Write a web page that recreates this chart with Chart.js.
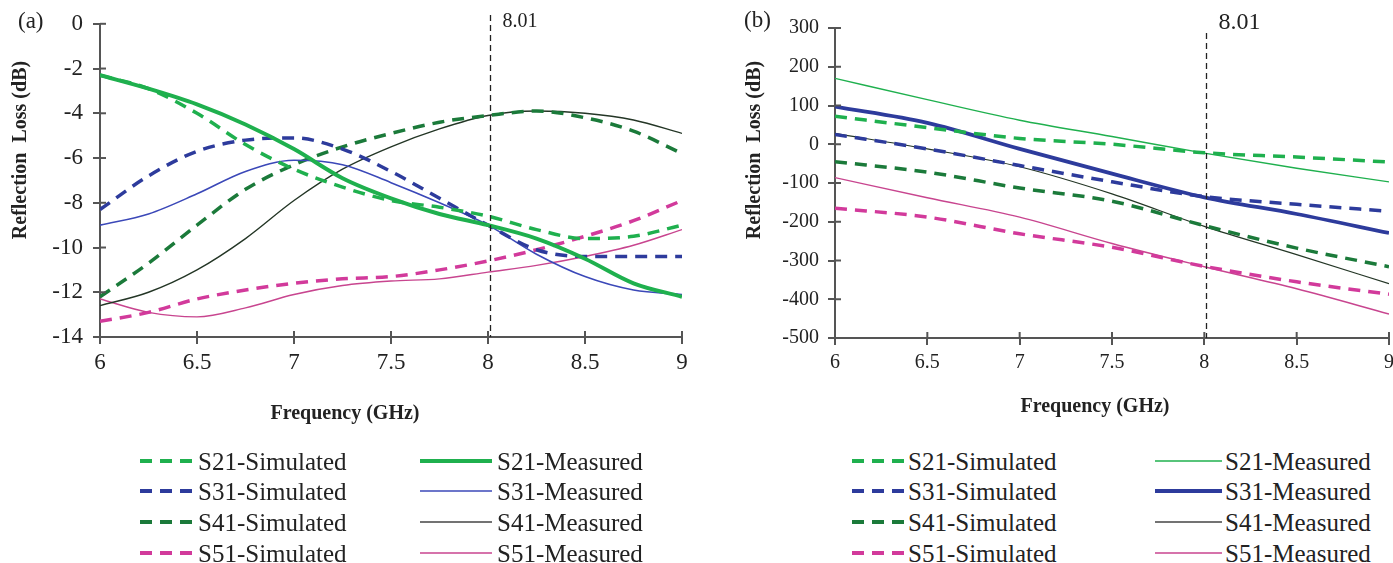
<!DOCTYPE html>
<html>
<head>
<meta charset="utf-8">
<script src="https://cdn.jsdelivr.net/npm/chart.js@4/dist/chart.umd.min.js"></script>
<style>
  html,body{margin:0;padding:0;background:#fff;}
  body{width:1393px;height:563px;position:relative;overflow:hidden;font-family:"Liberation Serif","Times New Roman",serif;color:#222;}
  .wrap{position:absolute;top:0;height:430px;}
  .lbl{position:absolute;white-space:nowrap;line-height:1;}
  .ytitle{position:absolute;font-weight:bold;font-size:20px;white-space:nowrap;transform:translate(-50%,-50%) rotate(-90deg);line-height:1;}
  .xtitle{position:absolute;font-weight:bold;font-size:20px;white-space:nowrap;transform:translate(-50%,-50%);line-height:1;}
  .leg{position:absolute;font-size:25px;white-space:nowrap;transform:translateY(-50%);line-height:1;}
  svg.smp{position:absolute;overflow:visible;}
</style>
</head>
<body>
<div class="wrap" style="left:0;width:700px;"><canvas id="ca"></canvas></div>
<div class="wrap" style="left:700px;width:700px;"><canvas id="cb"></canvas></div>

<div class="lbl" style="left:18px;top:9px;font-size:23px;">(a)</div>
<div class="lbl" style="left:744px;top:8px;font-size:23px;">(b)</div>
<div class="ytitle" style="left:19px;top:150px;">Reflection&nbsp;&nbsp;Loss (dB)</div>
<div class="ytitle" style="left:753px;top:150px;">Reflection&nbsp;&nbsp;Loss (dB)</div>
<div class="xtitle" style="left:345px;top:412px;">Frequency (GHz)</div>
<div class="xtitle" style="left:1095px;top:405px;">Frequency (GHz)</div>

<div id="legend"></div>

<script>
// ---------- data ----------
const freqA = [6, 6.25, 6.5, 6.75, 7, 7.25, 7.5, 7.75, 8, 8.25, 8.5, 8.75, 9];
const s21SimA  = [-2.3, -2.9, -4.0, -5.4, -6.5, -7.3, -7.9, -8.2, -8.6, -9.2, -9.6, -9.5, -9.0];
const s21MeasA = [-2.3, -2.9, -3.6, -4.5, -5.6, -6.9, -7.8, -8.5, -9.0, -9.6, -10.5, -11.6, -12.2];
const s31SimA  = [-8.3, -6.8, -5.7, -5.2, -5.1, -5.6, -6.6, -7.8, -9.0, -10.1, -10.4, -10.4, -10.4];
const s31MeasA = [-9.0, -8.5, -7.6, -6.6, -6.1, -6.3, -7.1, -8.0, -9.0, -10.3, -11.3, -11.9, -12.1];
const s41SimA  = [-12.2, -10.7, -9.0, -7.4, -6.3, -5.5, -4.9, -4.4, -4.1, -3.9, -4.2, -4.8, -5.8];
const s41MeasA = [-12.6, -12.0, -11.0, -9.6, -7.9, -6.5, -5.5, -4.7, -4.1, -3.9, -4.0, -4.3, -4.9];
const s51SimA  = [-13.3, -12.9, -12.3, -11.9, -11.6, -11.4, -11.3, -11.0, -10.6, -10.1, -9.5, -8.8, -7.9];
const s51MeasA = [-12.3, -12.9, -13.1, -12.7, -12.1, -11.7, -11.5, -11.4, -11.1, -10.8, -10.4, -9.9, -9.2];

const freqB = [6, 6.5, 7, 7.5, 8, 8.5, 9];
const s21SimB  = [72, 43, 15, 0, -22, -33, -46];
const s21MeasB = [170, 115, 62, 20, -23, -62, -97];
const s31SimB  = [25, -12, -55, -97, -135, -155, -173];
const s31MeasB = [97, 55, -12, -76, -137, -180, -229];
const s41SimB  = [-45, -72, -113, -147, -210, -268, -316];
const s41MeasB = [28, -12, -58, -128, -212, -285, -360];
const s51SimB  = [-165, -188, -231, -266, -315, -355, -387];
const s51MeasB = [-86, -138, -188, -256, -316, -373, -438];

const markerFreq = 8.01;
const markerLabel = "8.01";
const seriesNames = ["S21-Simulated","S21-Measured","S31-Simulated","S31-Measured","S41-Simulated","S41-Measured","S51-Simulated","S51-Measured"];

// ---------- styles ----------
const C = {
  g: "#1fb04e", b: "#2d3b9c", bm: "#3b48b8", dg: "#1b7a3a", dgm: "#243626", m: "#d23a9b", mm: "#c8458f"
};
const DASH = [12, 8];

function pts(xs, ys){ return xs.map((x,i)=>({x:x, y:ys[i]})); }
function ds(label, xs, ys, color, width, dashed){
  return {label, data: pts(xs, ys), borderColor: color, backgroundColor: color, borderWidth: width,
    borderDash: dashed ? DASH : [], pointRadius: 0, fill: false, tension: 0.4, cubicInterpolationMode: 'monotone'};
}

const markerPlugin = {
  id: 'marker',
  afterDatasetsDraw(chart, args, o){
    const {ctx, scales:{x, y}} = chart;
    const px = Math.round(x.getPixelForValue(o.value)) + 0.5;
    ctx.save();
    ctx.strokeStyle = '#222'; ctx.lineWidth = 1.3; ctx.setLineDash([6,4]);
    ctx.beginPath(); ctx.moveTo(px, o.top); ctx.lineTo(px, y.bottom); ctx.stroke();
    ctx.setLineDash([]);
    ctx.fillStyle = '#222'; ctx.font = o.font; ctx.textBaseline = 'middle'; ctx.textAlign = 'left';
    ctx.fillText(o.label, px + o.dx, o.labelY);
    ctx.restore();
  }
};
const innerTicks = {
  id: 'innerTicks',
  afterDraw(chart, args, o){
    const {ctx, scales:{x, y}} = chart;
    ctx.save(); ctx.strokeStyle = '#555'; ctx.lineWidth = 2;
    x.ticks.forEach((t,i)=>{ const px = x.getPixelForTick(i); ctx.beginPath(); ctx.moveTo(px, y.bottom - o.len); ctx.lineTo(px, y.bottom); ctx.stroke(); });
    y.ticks.forEach((t,i)=>{ const py = y.getPixelForTick(i); ctx.beginPath(); ctx.moveTo(x.left, py); ctx.lineTo(x.left + o.len, py); ctx.stroke(); });
    ctx.restore();
  }
};

function makeChart(id, datasets, yMin, yMax, yStep, opt){
  return new Chart(document.getElementById(id), {
    type: 'line',
    data: { datasets },
    plugins: [markerPlugin, innerTicks],
    options: {
      responsive: true, maintainAspectRatio: false, animation: false, devicePixelRatio: 1,
      layout: { padding: opt.padding },
      plugins: {
        legend: { display: false }, tooltip: { enabled: false },
        marker: { value: markerFreq, label: markerLabel, top: opt.markTop, dx: opt.markDx, labelY: opt.markLabelY, font: opt.markFont },
        innerTicks: { len: 6 }
      },
      scales: {
        x: { type: 'linear', min: 6, max: 9,
          ticks: { stepSize: 0.5, color: '#222', font: { family: "Liberation Serif", size: opt.xtick }, padding: opt.xpad, maxRotation: 0,
                   callback: v => String(Math.round(v * 10) / 10) },
          grid: { display: true, drawOnChartArea: false, drawTicks: true, tickLength: 7, color: '#555', lineWidth: 2 },
          border: { display: true, color: '#555', width: 2 },
          afterFit: s => { s.height = opt.xh; }
        },
        y: { type: 'linear', min: yMin, max: yMax,
          ticks: { stepSize: yStep, color: '#222', font: { family: "Liberation Serif", size: opt.ytick }, padding: opt.ypad,
                   callback: v => String(v) },
          grid: { display: true, drawOnChartArea: false, drawTicks: true, tickLength: 7, color: '#555', lineWidth: 2 },
          border: { display: true, color: '#555', width: 2 },
          afterFit: s => { s.width = opt.yw; }
        }
      }
    }
  });
}

makeChart('ca', [
  ds(seriesNames[0], freqA, s21SimA, C.g, 3.5, true),
  ds(seriesNames[1], freqA, s21MeasA, C.g, 4, false),
  ds(seriesNames[2], freqA, s31SimA, C.b, 3.5, true),
  ds(seriesNames[3], freqA, s31MeasA, C.bm, 1.6, false),
  ds(seriesNames[4], freqA, s41SimA, C.dg, 3.5, true),
  ds(seriesNames[5], freqA, s41MeasA, C.dgm, 1.4, false),
  ds(seriesNames[6], freqA, s51SimA, C.m, 3.5, true),
  ds(seriesNames[7], freqA, s51MeasA, C.mm, 1.4, false)
], -14, 0, 2, { padding: {left:0, right:18, top:21, bottom:0}, xh: 93, yw: 100, xtick: 23, ytick: 23, xpad: 5, ypad: 10,
  markTop: 15, markDx: 12, markLabelY: 22, markFont: "20px 'Liberation Serif'" });

makeChart('cb', [
  ds(seriesNames[0], freqB, s21SimB, C.g, 3.5, true),
  ds(seriesNames[1], freqB, s21MeasB, C.g, 1.4, false),
  ds(seriesNames[2], freqB, s31SimB, C.b, 3.5, true),
  ds(seriesNames[3], freqB, s31MeasB, C.b, 3.8, false),
  ds(seriesNames[4], freqB, s41SimB, C.dg, 3.5, true),
  ds(seriesNames[5], freqB, s41MeasB, C.dgm, 1.2, false),
  ds(seriesNames[6], freqB, s51SimB, C.m, 3.5, true),
  ds(seriesNames[7], freqB, s51MeasB, C.mm, 1.4, false)
], -500, 300, 100, { padding: {left:40, right:10, top:28, bottom:0}, xh: 92, yw: 95, xtick: 20, ytick: 20, xpad: 6, ypad: 9,
  markTop: 33, markDx: 12, markLabelY: 23, markFont: "24px 'Liberation Serif'" });

// ---------- legend (HTML) ----------
const legendRows = [461, 491, 522, 553];
const legA = { sim: [140, 192, 198], meas: [420, 492, 497], measW: [4, 1.6, 1.6, 1.6] };
const legB = { sim: [852, 904, 908], meas: [1155, 1222, 1225], measW: [1.4, 3.8, 1.4, 1.6] };
const simCols = [C.g, C.b, C.dg, C.m];
const measColsA = [C.g, C.bm, '#444', C.mm];
const measColsB = [C.g, C.b, '#444', C.mm];
const legendEl = document.getElementById('legend');
function addSample(x1, x2, y, color, w, dashed){
  const svg = document.createElementNS('http://www.w3.org/2000/svg','svg');
  svg.setAttribute('class','smp'); svg.setAttribute('width', x2-x1); svg.setAttribute('height', 10);
  svg.style.left = x1+'px'; svg.style.top = (y-5)+'px';
  const ln = document.createElementNS('http://www.w3.org/2000/svg','line');
  ln.setAttribute('x1',0); ln.setAttribute('x2',x2-x1); ln.setAttribute('y1',5); ln.setAttribute('y2',5);
  ln.setAttribute('stroke', color); ln.setAttribute('stroke-width', w);
  if (dashed) ln.setAttribute('stroke-dasharray','12 8');
  svg.appendChild(ln); legendEl.appendChild(svg);
}
function addText(x, y, t){
  const d = document.createElement('div'); d.className='leg'; d.style.left = x+'px'; d.style.top = y+'px'; d.textContent = t;
  legendEl.appendChild(d);
}
[legA, legB].forEach((L, k)=>{
  legendRows.forEach((y, r)=>{
    addSample(L.sim[0], L.sim[1], y, simCols[r], 4, true);
    addText(L.sim[2], y, seriesNames[r*2]);
    addSample(L.meas[0], L.meas[1], y, (k===0?measColsA:measColsB)[r], L.measW[r], false);
    addText(L.meas[2], y, seriesNames[r*2+1]);
  });
});
</script>
</body>
</html>
